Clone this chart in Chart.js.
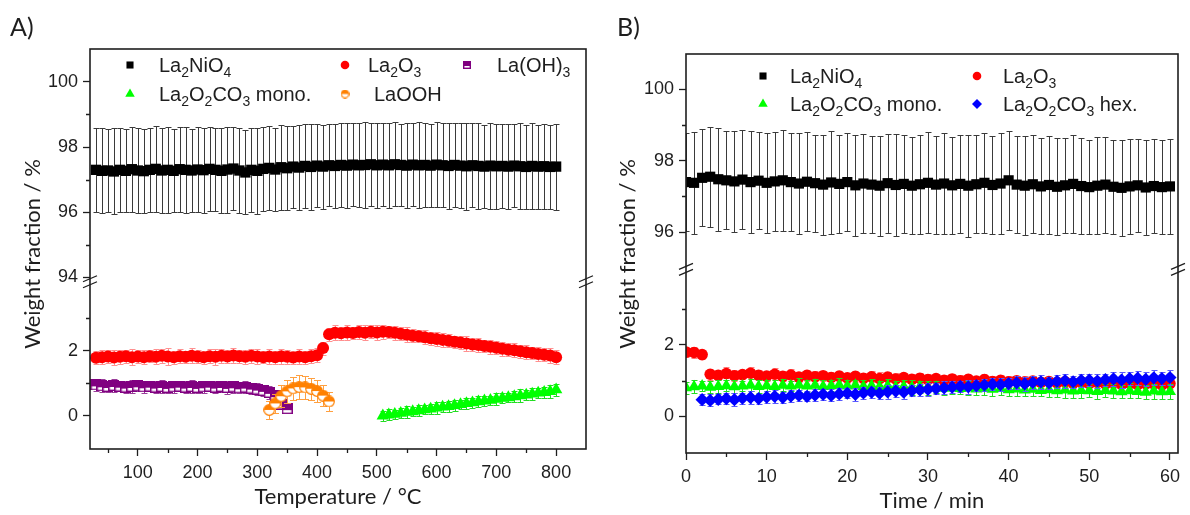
<!DOCTYPE html>
<html>
<head>
<meta charset="utf-8">
<script src="https://cdn.jsdelivr.net/npm/chart.js@4.4.0/dist/chart.umd.min.js"></script>
<style>
  body { margin: 0; background: #fff; width: 1190px; height: 515px; overflow: hidden; position: relative; }
  #wrapA { position: absolute; left: 0; top: 0; width: 600px; height: 515px; }
  #wrapB { position: absolute; left: 600px; top: 0; width: 590px; height: 515px; }
</style>
</head>
<body>
<div id="wrapA"><canvas id="chartA"></canvas></div>
<div id="wrapB"><canvas id="chartB"></canvas></div>
<script>
// ================================
// Data - panel A (temperature)
// ================================
const tempA = [30,40,50,60,70,80,90,100,110,120,130,140,150,160,170,180,190,200,
  210,220,230,240,250,260,270,280,290,300,310,320,330,340,350,360,370,380,390,400,
  410,420,430,440,450,460,470,480,490,500,510,520,530,540,550,560,570,580,590,600,
  610,620,630,640,650,660,670,680,690,700,710,720,730,740,750,760,770,780,790,800];
const tempOH = [30,40,50,60,70,80,90,100,110,120,130,140,150,160,170,180,190,200,
  210,220,230,240,250,260,270,280,290,300,310,320,330,340,350];
const tempOOH = [320,330,340,350,360,370,380,390,400,410,420];
const tempMonoA = [510,520,530,540,550,560,570,580,590,600,610,620,630,640,650,
  660,670,680,690,700,710,720,730,740,750,760,770,780,790,800];

const nickelateA = [97.30,97.27,97.28,97.25,97.30,97.27,97.32,97.28,
  97.26,97.30,97.33,97.28,97.30,97.27,97.32,97.30,97.28,97.31,
  97.29,97.33,97.30,97.27,97.31,97.34,97.28,97.22,97.30,97.27,
  97.33,97.36,97.31,97.38,97.35,97.40,97.37,97.42,97.39,97.43,
  97.40,97.44,97.42,97.45,97.43,97.46,97.44,97.45,97.47,97.44,
  97.46,97.44,97.47,97.45,97.43,97.46,97.44,97.45,97.43,97.46,
  97.44,97.42,97.45,97.43,97.41,97.44,97.42,97.40,97.43,97.41,
  97.42,97.40,97.43,97.41,97.39,97.42,97.40,97.41,97.39,97.40];
const nickelateErrA = [1.29,1.31,1.28,1.32,1.30,1.27,1.31,1.29,
  1.30,1.28,1.32,1.29,1.31,1.27,1.30,1.32,1.28,1.30,
  1.31,1.29,1.27,1.30,1.32,1.28,1.31,1.29,1.30,1.33,
  1.28,1.30,1.27,1.31,1.29,1.26,1.30,1.28,1.31,1.27,
  1.29,1.26,1.30,1.28,1.31,1.27,1.29,1.32,1.28,1.30,
  1.27,1.31,1.29,1.26,1.30,1.28,1.32,1.29,1.27,1.31,
  1.29,1.32,1.28,1.30,1.33,1.29,1.31,1.28,1.32,1.30,
  1.29,1.31,1.28,1.32,1.30,1.33,1.29,1.31,1.30,1.32];

const oxideA = [1.78,1.80,1.82,1.79,1.81,1.83,1.80,1.82,
  1.80,1.83,1.81,1.84,1.82,1.80,1.83,1.81,1.84,1.82,
  1.80,1.83,1.81,1.84,1.82,1.85,1.83,1.81,1.84,1.82,
  1.80,1.82,1.80,1.83,1.81,1.79,1.82,1.80,1.83,1.86,
  2.08,2.50,2.55,2.53,2.56,2.54,2.57,2.55,2.58,2.56,
  2.58,2.57,2.55,2.52,2.49,2.46,2.44,2.41,2.38,2.36,
  2.33,2.30,2.27,2.25,2.22,2.19,2.17,2.14,2.12,2.09,
  2.06,2.03,2.01,1.98,1.95,1.93,1.90,1.87,1.85,1.80];
const oxideErrA = [0.20,0.22,0.19,0.23,0.21,0.20,0.24,0.21,
  0.22,0.19,0.23,0.21,0.25,0.20,0.22,0.19,0.23,0.21,
  0.20,0.22,0.24,0.21,0.19,0.23,0.20,0.22,0.21,0.24,
  0.19,0.22,0.20,0.23,0.21,0.19,0.22,0.20,0.21,0.22,
  0.20,0.21,0.23,0.20,0.22,0.19,0.21,0.23,0.20,0.22,
  0.21,0.19,0.22,0.20,0.23,0.21,0.19,0.22,0.20,0.21,
  0.22,0.20,0.19,0.21,0.23,0.20,0.22,0.19,0.21,0.20,
  0.22,0.19,0.21,0.20,0.22,0.19,0.21,0.20,0.22,0.21];

const hydroxideA = [0.95,0.92,0.90,0.93,0.91,0.88,0.90,0.92,
  0.89,0.91,0.88,0.90,0.87,0.89,0.91,0.88,0.90,0.87,
  0.89,0.91,0.88,0.90,0.87,0.89,0.86,0.88,0.85,0.82,
  0.78,0.72,0.62,0.36,0.22];
const hydroxideErrA = [0.18,0.20,0.17,0.19,0.16,0.18,0.20,0.17,
  0.19,0.16,0.18,0.20,0.17,0.19,0.16,0.18,0.20,0.17,
  0.18,0.16,0.19,0.17,0.20,0.18,0.16,0.19,0.17,0.18,
  0.17,0.19,0.16,0.14,0.12];

const oxyhydroxideA = [0.18,0.38,0.60,0.75,0.84,0.88,0.87,0.83,0.76,0.62,0.44];
const oxyhydroxideErrA = [0.28,0.30,0.33,0.36,0.35,0.37,0.36,0.34,0.33,0.31,0.30];

const monoA = [0.00,0.03,0.05,0.08,0.11,0.13,0.16,0.19,0.21,0.24,
  0.27,0.29,0.32,0.35,0.38,0.40,0.43,0.46,0.48,0.51,
  0.54,0.56,0.59,0.62,0.64,0.67,0.70,0.72,0.75,0.80];
const monoErrA = [0.15,0.17,0.14,0.16,0.18,0.15,0.17,0.14,0.16,0.18,
  0.15,0.17,0.16,0.14,0.18,0.15,0.17,0.16,0.14,0.18,
  0.16,0.15,0.17,0.19,0.16,0.18,0.15,0.17,0.19,0.18];

// ================================
// Data - panel B (time)
// ================================
const timeB = [0,1,2,3,4,5,6,7,8,9,10,11,12,13,14,15,16,17,18,19,20,21,22,23,24,25,
  26,27,28,29,30,31,32,33,34,35,36,37,38,39,40,41,42,43,44,45,46,47,48,49,50,51,52,
  53,54,55,56,57,58,59,60];
const timeHexB = [2,3,4,5,6,7,8,9,10,11,12,13,14,15,16,17,18,19,20,21,22,23,24,25,
  26,27,28,29,30,31,32,33,34,35,36,37,38,39,40,41,42,43,44,45,46,47,48,49,50,51,52,
  53,54,55,56,57,58,59,60];

const nickelateB = [97.40,97.38,97.52,97.55,97.48,97.45,97.42,97.47,97.40,97.44,
  97.38,97.42,97.45,97.40,97.36,97.41,97.37,97.33,97.39,97.35,
  97.40,97.31,97.36,97.33,97.30,97.37,97.32,97.35,97.30,97.34,
  97.38,97.33,97.36,97.31,97.35,97.30,97.34,97.38,97.32,97.36,
  97.45,97.33,97.30,97.34,97.28,97.32,97.27,97.31,97.35,97.29,
  97.26,97.30,97.33,97.27,97.24,97.28,97.31,97.25,97.29,97.26,97.28];
const nickelateErrB = [1.38,1.42,1.36,1.40,1.44,1.37,1.41,1.39,1.43,1.36,
  1.40,1.38,1.42,1.37,1.41,1.39,1.36,1.40,1.43,1.38,
  1.37,1.41,1.39,1.36,1.40,1.38,1.42,1.37,1.35,1.39,
  1.41,1.37,1.40,1.36,1.38,1.42,1.37,1.39,1.36,1.40,
  1.38,1.35,1.39,1.37,1.34,1.38,1.36,1.33,1.37,1.35,
  1.32,1.36,1.34,1.31,1.35,1.33,1.30,1.34,1.32,1.31,1.33];

const oxideB = [1.80,1.79,1.73,1.18,1.15,1.20,1.14,1.17,1.21,1.15,
  1.13,1.18,1.12,1.16,1.10,1.15,1.11,1.14,1.09,1.13,
  1.08,1.12,1.07,1.11,1.06,1.10,1.05,1.09,1.04,1.07,
  1.03,1.06,1.01,1.05,1.00,1.04,0.99,1.03,0.98,1.01,
  0.97,1.00,0.96,0.99,0.95,0.98,0.94,0.97,0.93,0.96,
  0.92,0.95,0.91,0.94,0.90,0.93,0.89,0.92,0.91,0.88,0.92];
const oxideErrB = [0.14,0.15,0.13,0.16,0.14,0.17,0.15,0.13,0.16,0.14,
  0.15,0.17,0.14,0.16,0.13,0.15,0.17,0.14,0.16,0.15,
  0.13,0.16,0.14,0.15,0.17,0.14,0.16,0.13,0.15,0.14,
  0.16,0.14,0.15,0.13,0.16,0.14,0.15,0.17,0.14,0.16,
  0.15,0.13,0.16,0.14,0.15,0.13,0.16,0.14,0.15,0.13,
  0.16,0.14,0.15,0.13,0.16,0.14,0.15,0.13,0.16,0.14,0.15];

const monoB = [0.80,0.83,0.85,0.82,0.84,0.86,0.83,0.85,0.87,0.84,
  0.86,0.84,0.87,0.85,0.88,0.85,0.87,0.84,0.86,0.88,
  0.85,0.87,0.84,0.86,0.83,0.85,0.82,0.84,0.81,0.83,
  0.80,0.82,0.79,0.81,0.78,0.80,0.77,0.79,0.76,0.78,
  0.75,0.77,0.74,0.76,0.73,0.75,0.72,0.74,0.71,0.73,
  0.72,0.70,0.73,0.71,0.69,0.72,0.70,0.68,0.71,0.69,0.70];
const monoErrB = [0.16,0.18,0.15,0.17,0.19,0.16,0.18,0.15,0.17,0.19,
  0.16,0.18,0.17,0.15,0.19,0.16,0.18,0.17,0.15,0.19,
  0.17,0.16,0.18,0.20,0.17,0.19,0.16,0.18,0.20,0.17,
  0.19,0.17,0.20,0.18,0.16,0.19,0.17,0.20,0.18,0.19,
  0.17,0.20,0.18,0.19,0.17,0.20,0.18,0.21,0.19,0.20,
  0.18,0.21,0.19,0.20,0.18,0.21,0.19,0.20,0.21,0.19,0.20];

const hexB = [0.47,0.45,0.48,0.50,0.47,0.51,0.53,0.50,
  0.54,0.56,0.53,0.57,0.59,0.56,0.60,0.62,0.59,0.63,
  0.65,0.62,0.66,0.68,0.65,0.69,0.71,0.68,0.72,0.74,
  0.76,0.78,0.80,0.82,0.84,0.83,0.86,0.88,0.90,0.89,
  0.92,0.94,0.91,0.95,0.97,0.94,0.98,1.00,0.97,1.01,
  1.02,0.99,1.03,1.05,1.02,1.06,1.07,1.04,1.08,1.06,1.09];
const hexErrB = [0.15,0.17,0.14,0.16,0.18,0.15,0.17,0.14,
  0.16,0.18,0.15,0.17,0.16,0.14,0.18,0.15,0.17,0.16,
  0.14,0.18,0.16,0.15,0.17,0.19,0.16,0.18,0.15,0.17,
  0.19,0.16,0.18,0.17,0.15,0.19,0.16,0.18,0.17,0.19,
  0.16,0.18,0.20,0.17,0.19,0.16,0.18,0.20,0.17,0.19,
  0.18,0.20,0.17,0.19,0.21,0.18,0.20,0.19,0.21,0.18,0.20];

// labels and ticks
const seriesA = ['La_2NiO_4', 'La_2O_3', 'La(OH)_3', 'La_2O_2CO_3 mono.', 'LaOOH'];
const seriesB = ['La_2NiO_4', 'La_2O_3', 'La_2O_2CO_3 mono.', 'La_2O_2CO_3 hex.'];
const yTicksA = [0, 2, 94, 96, 98, 100];
const yMinorA = [1, 3, 95, 97, 99];
const xTicksA = [100, 200, 300, 400, 500, 600, 700, 800];
const xMinorA = [50, 150, 250, 350, 450, 550, 650, 750];
const yTicksB = [0, 2, 96, 98, 100];
const yMinorB = [1, 3, 97, 99];
const xTicksB = [0, 10, 20, 30, 40, 50, 60];
const xMinorB = [5, 15, 25, 35, 45, 55];

// broken axis: upper segment values are shifted down by these offsets
const OFF_A = 89.75;
const OFF_B = 90.85;
const BREAK = 4.1;

// ================================
// Helpers
// ================================
const INK = '#1e1e1e';
const TICK_FONT = { family: 'Liberation Sans, Arial, sans-serif', size: 18 };

function pts(xs, ys, off) {
    return xs.map((x, i) => ({ x: x, y: ys[i] > 50 ? ys[i] - off : ys[i] }));
}

function halfSquare(s, color) {
    const c = document.createElement('canvas');
    c.width = s; c.height = s;
    const g = c.getContext('2d');
    g.fillStyle = '#fff'; g.fillRect(0, 0, s, s);
    g.fillStyle = color; g.fillRect(0, 0, s, Math.ceil(s * 0.6));
    g.strokeStyle = color; g.lineWidth = 1.4; g.strokeRect(0.7, 0.7, s - 1.4, s - 1.4);
    return c;
}

function halfCircle(s, color) {
    const c = document.createElement('canvas');
    c.width = s; c.height = s;
    const g = c.getContext('2d');
    const r = s / 2 - 0.7;
    g.fillStyle = '#fff';
    g.beginPath(); g.arc(s / 2, s / 2, r, 0, Math.PI * 2); g.fill();
    g.fillStyle = color;
    g.beginPath(); g.arc(s / 2, s / 2, r, Math.PI, 0); g.closePath(); g.fill();
    g.strokeStyle = color; g.lineWidth = 1.2;
    g.beginPath(); g.arc(s / 2, s / 2, r, 0, Math.PI * 2); g.stroke();
    return c;
}

function splitSub(label) {
    const parts = [];
    let buf = '';
    for (let i = 0; i < label.length; i++) {
        if (label[i] === '_') {
            if (buf) parts.push([buf, false]);
            buf = '';
            parts.push([label[i + 1], true]);
            i++;
        } else {
            buf += label[i];
        }
    }
    if (buf) parts.push([buf, false]);
    return parts;
}

function drawMarker(ctx, m, x, y) {
    ctx.save();
    ctx.fillStyle = m.color;
    ctx.strokeStyle = m.color;
    if (m.img) {
        ctx.drawImage(m.img, x - m.img.width / 2, y - m.img.height / 2);
    } else {
        Chart.helpers.drawPoint(ctx, { pointStyle: m.style, radius: m.r, rotation: 0, borderWidth: 0 }, x, y);
    }
    ctx.restore();
}

// ================================
// Error bars (under each series)
// ================================
const errorBars = {
    id: 'errorBars',
    beforeDatasetDraw(chart, args) {
        const ds = chart.data.datasets[args.index];
        if (!ds.errors) return;
        const ctx = chart.ctx, ys = chart.scales.y, a = chart.chartArea;
        const cap = ds.capHalf || 3;
        ctx.save();
        ctx.beginPath();
        ctx.rect(a.left, a.top, a.right - a.left, a.bottom - a.top);
        ctx.clip();
        ctx.strokeStyle = ds.errColor;
        ctx.lineWidth = 1;
        ctx.beginPath();
        args.meta.data.forEach((pt, i) => {
            const v = ds.data[i].y, e = ds.errors[i];
            const x = Math.round(pt.x) + 0.5;
            const top = Math.round(ys.getPixelForValue(v + e)) + 0.5;
            const bot = Math.round(ys.getPixelForValue(v - e)) + 0.5;
            ctx.moveTo(x, top); ctx.lineTo(x, bot);
            ctx.moveTo(x - cap, top); ctx.lineTo(x + cap, top);
            ctx.moveTo(x - cap, bot); ctx.lineTo(x + cap, bot);
        });
        ctx.stroke();
        ctx.restore();
    }
};

// ================================
// Frame, minor ticks, breaks, legend, titles
// ================================
function makeDecor(cfg) {
    return {
        id: 'decor',
        afterDraw(chart) {
            const ctx = chart.ctx, a = chart.chartArea;
            const xs = chart.scales.x, ys = chart.scales.y;
            ctx.save();
            ctx.strokeStyle = INK;
            ctx.lineWidth = 1.6;
            ctx.strokeRect(a.left, a.top, a.right - a.left, a.bottom - a.top);

            // minor ticks
            ctx.lineWidth = 1.3;
            ctx.beginPath();
            cfg.yMinor.forEach(v => {
                const py = Math.round(ys.getPixelForValue(v > 50 ? v - cfg.off : v)) + 0.5;
                ctx.moveTo(a.left, py); ctx.lineTo(a.left - 4, py);
            });
            cfg.xMinor.forEach(v => {
                const px = Math.round(xs.getPixelForValue(v)) + 0.5;
                ctx.moveTo(px, a.bottom); ctx.lineTo(px, a.bottom + 4);
            });
            ctx.stroke();

            // axis breaks
            const by = ys.getPixelForValue(BREAK);
            ctx.lineWidth = 1.3;
            [a.left, a.right].forEach(bx => {
                ctx.beginPath();
                ctx.moveTo(bx - 7, by - 0.5); ctx.lineTo(bx + 7, by - 6.5);
                ctx.moveTo(bx - 7, by + 5.5); ctx.lineTo(bx + 7, by - 0.5);
                ctx.stroke();
            });

            // legend
            ctx.fillStyle = INK;
            ctx.textAlign = 'left';
            ctx.textBaseline = 'alphabetic';
            cfg.legend.forEach(it => {
                drawMarker(ctx, it.marker, it.mx, it.my);
                let x = it.tx;
                splitSub(it.label).forEach(([t, sub]) => {
                    ctx.font = (sub ? cfg.subSize : cfg.legSize) + 'px "Liberation Sans", Arial, sans-serif';
                    ctx.fillText(t, x, it.my + (sub ? cfg.subDy : cfg.legDy));
                    x += ctx.measureText(t).width;
                });
            });

            // titles
            ctx.textAlign = 'center';
            ctx.textBaseline = 'middle';
            ctx.font = cfg.titleSize + 'px Lato, "Open Sans", sans-serif';
            ctx.fillText(cfg.xTitle, (a.left + a.right) / 2, cfg.xTitleY);
            ctx.save();
            ctx.translate(cfg.yTitleX, cfg.yTitleY);
            ctx.rotate(-Math.PI / 2);
            ctx.fillText(cfg.yTitle, 0, 0);
            ctx.restore();

            ctx.textAlign = 'left';
            ctx.font = '25px Lato, "Open Sans", sans-serif';
            ctx.fillText(cfg.panel, cfg.panelX, cfg.panelY);
            ctx.restore();
        }
    };
}

function axes(o) {
    return {
        x: {
            type: 'linear', min: o.xMin, max: o.xMax,
            afterBuildTicks: s => { s.ticks = o.xTicks.map(v => ({ value: v })); },
            afterFit: s => { s.height = o.xHeight; },
            grid: { drawOnChartArea: false, drawTicks: true, tickLength: 7, tickColor: INK, tickWidth: 1.3 },
            border: { display: false },
            ticks: { autoSkip: false, maxRotation: 0, color: INK, font: TICK_FONT, padding: o.xPad }
        },
        y: {
            type: 'linear', min: o.yMin, max: o.yMax,
            afterBuildTicks: s => { s.ticks = o.yTicks.map(v => ({ value: v > 50 ? v - o.off : v })); },
            afterFit: s => { s.width = o.yWidth; },
            grid: { drawOnChartArea: false, drawTicks: true, tickLength: 7, tickColor: INK, tickWidth: 1.3 },
            border: { display: false },
            ticks: {
                autoSkip: false, color: INK, font: TICK_FONT, padding: 5,
                callback: v => String(v > BREAK ? Math.round(v + o.off) : Math.round(v))
            }
        }
    };
}

function series(label, xs, ys, errs, off, look) {
    return Object.assign({
        label: label,
        data: pts(xs, ys, off),
        errors: errs,
        showLine: false,
        pointBorderWidth: 0
    }, look);
}

// ================================
// Panel A
// ================================
const ohImg = halfSquare(11, '#800080');
const oohImg = halfCircle(12, '#ff8000');
const ohLeg = halfSquare(8, '#800080');
const oohLeg = halfCircle(9, '#ff8000');

new Chart(document.getElementById('chartA'), {
    type: 'scatter',
    data: {
        datasets: [
            series(seriesA[0], tempA, nickelateA, nickelateErrA, OFF_A,
                { order: 4, pointStyle: 'rect', pointRadius: 7.3, pointBackgroundColor: '#000', errColor: '#3a3a3a', capHalf: 3 }),
            series(seriesA[1], tempA, oxideA, oxideErrA, OFF_A,
                { order: 3, pointStyle: 'circle', pointRadius: 6, pointBackgroundColor: '#ff0000', errColor: '#ff9090', capHalf: 3 }),
            series(seriesA[2], tempOH, hydroxideA, hydroxideErrA, OFF_A,
                { order: 1, pointStyle: ohImg, pointBackgroundColor: '#800080', errColor: '#9a3d9a', capHalf: 3 }),
            series(seriesA[3], tempMonoA, monoA, monoErrA, OFF_A,
                { order: 2, pointStyle: 'triangle', pointRadius: 7.2, pointBackgroundColor: '#00ff00', errColor: '#22dd22', capHalf: 3 }),
            series(seriesA[4], tempOOH, oxyhydroxideA, oxyhydroxideErrA, OFF_A,
                { order: 0, pointStyle: oohImg, pointBackgroundColor: '#ff8000', errColor: '#ffa040', capHalf: 3.5 })
        ]
    },
    options: {
        responsive: true, maintainAspectRatio: false, animation: false, devicePixelRatio: 1,
        layout: { padding: { left: 0, top: 49, right: 14, bottom: 0 } },
        plugins: { legend: { display: false }, tooltip: { enabled: false } },
        scales: axes({ xMin: 20, xMax: 850, xTicks: xTicksA, xHeight: 66, xPad: 6,
            yMin: -1.02, yMax: 11.26, yTicks: yTicksA, off: OFF_A, yWidth: 90 })
    },
    plugins: [errorBars, makeDecor({
        off: OFF_A, yMinor: yMinorA, xMinor: xMinorA,
        legSize: 20, subSize: 14, legDy: 7, subDy: 12,
        legend: [
            { label: seriesA[0], mx: 130, my: 65, tx: 159, marker: { style: 'rect', r: 5, color: '#000' } },
            { label: seriesA[1], mx: 345, my: 65, tx: 368, marker: { style: 'circle', r: 4.3, color: '#ff0000' } },
            { label: seriesA[2], mx: 467, my: 65, tx: 497, marker: { img: ohLeg, color: '#800080' } },
            { label: seriesA[3], mx: 130, my: 94, tx: 159, marker: { style: 'triangle', r: 5.5, color: '#00ff00' } },
            { label: seriesA[4], mx: 345, my: 94, tx: 374, marker: { img: oohLeg, color: '#ff8000' } }
        ],
        titleSize: 22, xTitle: 'Temperature / °C', xTitleY: 497,
        yTitle: 'Weight fraction / %', yTitleX: 33, yTitleY: 254,
        panel: 'A)', panelX: 10, panelY: 28
    })]
});

// ================================
// Panel B
// ================================
new Chart(document.getElementById('chartB'), {
    type: 'scatter',
    data: {
        datasets: [
            series(seriesB[0], timeB, nickelateB, nickelateErrB, OFF_B,
                { order: 3, pointStyle: 'rect', pointRadius: 7.2, pointBackgroundColor: '#000', errColor: '#3a3a3a', capHalf: 3 }),
            series(seriesB[1], timeB, oxideB, oxideErrB, OFF_B,
                { order: 2, pointStyle: 'circle', pointRadius: 5.8, pointBackgroundColor: '#ff0000', errColor: '#ff8080', capHalf: 3 }),
            series(seriesB[2], timeB, monoB, monoErrB, OFF_B,
                { order: 1, pointStyle: 'triangle', pointRadius: 7, pointBackgroundColor: '#00ff00', errColor: '#22dd22', capHalf: 3 }),
            series(seriesB[3], timeHexB, hexB, hexErrB, OFF_B,
                { order: 0, pointStyle: 'rectRot', pointRadius: 6.6, pointBackgroundColor: '#0000ff', errColor: '#5a5aff', capHalf: 3 })
        ]
    },
    options: {
        responsive: true, maintainAspectRatio: false, animation: false, devicePixelRatio: 1,
        layout: { padding: { left: 0, top: 54, right: 12, bottom: 0 } },
        plugins: { legend: { display: false }, tooltip: { enabled: false } },
        scales: axes({ xMin: 0, xMax: 61, xTicks: xTicksB, xHeight: 62, xPad: 6,
            yMin: -1.02, yMax: 10.13, yTicks: yTicksB, off: OFF_B, yWidth: 86 })
    },
    plugins: [errorBars, makeDecor({
        off: OFF_B, yMinor: yMinorB, xMinor: xMinorB,
        legSize: 20, subSize: 14, legDy: 7, subDy: 12,
        legend: [
            { label: seriesB[0], mx: 163, my: 76, tx: 190, marker: { style: 'rect', r: 5, color: '#000' } },
            { label: seriesB[1], mx: 377, my: 76, tx: 403, marker: { style: 'circle', r: 4.3, color: '#ff0000' } },
            { label: seriesB[2], mx: 163, my: 104, tx: 190, marker: { style: 'triangle', r: 5.5, color: '#00ff00' } },
            { label: seriesB[3], mx: 377, my: 104, tx: 403, marker: { style: 'rectRot', r: 5, color: '#0000ff' } }
        ],
        titleSize: 22, xTitle: 'Time / min', xTitleY: 501,
        yTitle: 'Weight fraction / %', yTitleX: 28, yTitleY: 254,
        panel: 'B)', panelX: 17, panelY: 28
    })]
});
</script>
</body>
</html>
